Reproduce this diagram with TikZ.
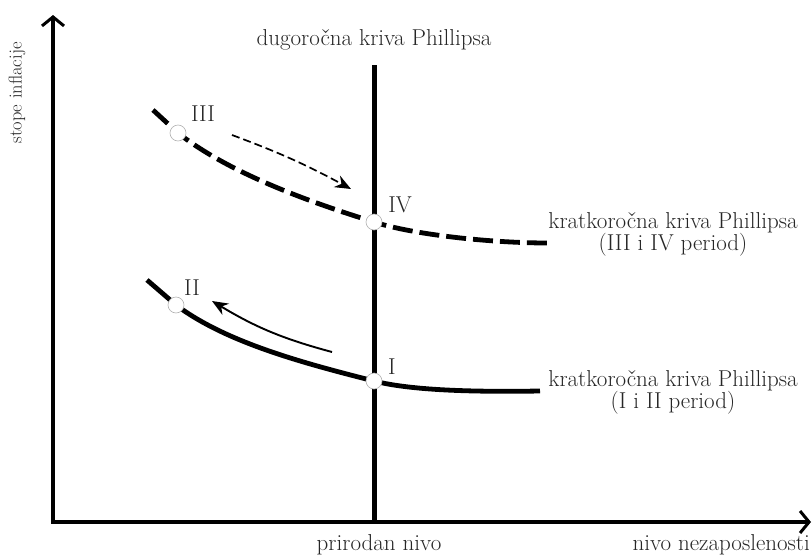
\documentclass[tikz,border=0pt]{standalone}
\usepackage{tikz}
\usetikzlibrary{arrows.meta,positioning,calc}
\definecolor{txtGray}{HTML}{262626}

\begin{document}
\begin{tikzpicture}[
  x=1pt, y=-1pt,
  font=\fontsize{23}{22}\selectfont,
  axis/.style={line width=3.2pt, -{Straight Barb[length=9pt,width=22pt,line width=3pt]}},
  lr/.style={line width=5pt},
  curve/.style={line width=4.8pt},
  pt/.style={circle, solid, fill=white, draw=black!30, line width=0.6pt,
    minimum size=16pt, inner sep=0pt},
  lbl/.style={text=txtGray, inner sep=0pt},
  move/.style={-{Stealth[length=16pt,width=13pt]}, line width=1.9pt}
]
\useasboundingbox (0,0) rectangle (812,560);
% axes
\coordinate (O) at (53,522);
\coordinate (ytop) at (53,15);
\coordinate (xend) at (811,522);
\draw[axis] ([yshift=-1.6pt]O) -- (ytop);
\draw[axis] ([xshift=-1.6pt]O) -- (xend);
\node[lbl, rotate=90, font=\fontsize{18.5}{18.5}\selectfont] (ylab) at (17,93) {stope inflacije};
\node[lbl, anchor=base east] (xlab) at (810,550) {nivo nezaposlenosti};
% long run curve
\coordinate (lrtop) at (374,65);
\coordinate (lrbot) at (374,522);
\draw[lr] (lrtop) -- (lrbot);
\node[lbl, anchor=base] (lrlab) at (374,45) {dugoročna kriva Phillipsa};
\node[lbl, anchor=base] (natlab) at (379,550) {prirodan nivo};
% short run curves
\coordinate (d0) at (153,110);
\coordinate (pIII) at (178,133);
\coordinate (pIV) at (374,222);
\coordinate (d1) at (548,243);
\coordinate (s0) at (147,280);
\coordinate (pII) at (176,305);
\coordinate (pI) at (374,381);
\coordinate (s1) at (540,391);
\draw[curve, dash pattern=on 20pt off 7pt]
  (d0) -- (pIII) .. controls (228,172) and (303,200) .. (pIV)
  .. controls (413,234.6) and (490,243) .. (d1);
\draw[curve] (s0) -- (pII) .. controls (226,342.5) and (303,363) .. (pI)
  .. controls (413,391) and (480,392) .. (s1);
% points
\node[pt] (III) at (pIII) {};
\node[pt] (IV) at (pIV) {};
\node[pt] (II) at (pII) {};
\node[pt] (I) at (pI) {};
\node[lbl] (nIII) at (203,114) {III};
\node[lbl] (nIV) at (400,205) {IV};
\node[lbl] (nII) at (192,288) {II};
\node[lbl] (nI) at (392,367) {I};
\node[lbl, align=center] (srA) at (673,234) {kratkoročna kriva Phillipsa\\(III i IV period)};
\node[lbl, align=center] (srB) at (673,392) {kratkoročna kriva Phillipsa\\(I i II period)};
% movements
\coordinate (a1s) at (232,135);
\coordinate (a1e) at (351,189);
\coordinate (a2s) at (332,352);
\coordinate (a2e) at (212,301);
\draw[move, line width=1.7pt, dash pattern=on 8pt off 4pt] (a1s) to[bend left=4] (a1e);
\draw[move] (a2s) to[bend left=8] (a2e);
\end{tikzpicture}
\end{document}
